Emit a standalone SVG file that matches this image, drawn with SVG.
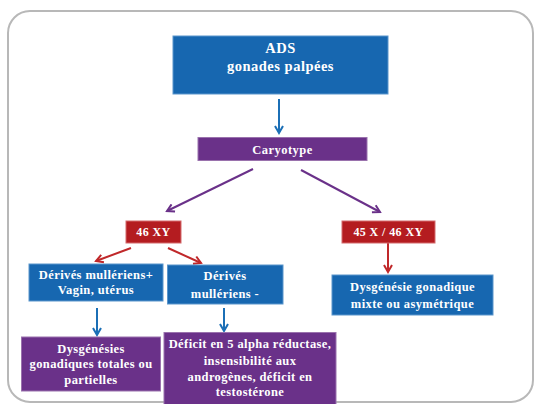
<svg xmlns="http://www.w3.org/2000/svg" width="536" height="404" viewBox="0 0 536 404">
<defs>
<style>
.t{font-family:"Liberation Serif","Times New Roman",serif;font-weight:bold;fill:#ffffff;text-anchor:middle;font-size:12.5px;letter-spacing:0.4px}
.blue{fill:#1767b0;stroke:#5b96cc;stroke-width:1}
.purple{fill:#6a3189;stroke:#9a72ad;stroke-width:1}
.red{fill:#b41c20;stroke:#d46a6c;stroke-width:1}
.cb{stroke:#1b6fb6;stroke-width:2;fill:none}
.cp{stroke:#6a3189;stroke-width:2;fill:none}
.cr{stroke:#c0282a;stroke-width:2;fill:none}
</style>
<marker id="ab" viewBox="0 0 10 10" refX="8" refY="5" markerWidth="5" markerHeight="5" orient="auto" markerUnits="strokeWidth">
<path d="M1,1 L8,5 L1,9" fill="none" stroke="#1b6fb6" stroke-width="2"/>
</marker>
<marker id="ap" viewBox="0 0 10 10" refX="8" refY="5" markerWidth="5" markerHeight="5" orient="auto" markerUnits="strokeWidth">
<path d="M1,1 L8,5 L1,9" fill="none" stroke="#6a3189" stroke-width="2"/>
</marker>
<marker id="ar" viewBox="0 0 10 10" refX="8" refY="5" markerWidth="5" markerHeight="5" orient="auto" markerUnits="strokeWidth">
<path d="M1,1 L8,5 L1,9" fill="none" stroke="#c0282a" stroke-width="2"/>
</marker>
</defs>
<rect x="0" y="0" width="536" height="404" fill="#ffffff"/>
<rect x="8" y="11" width="525" height="391" rx="22" ry="22" fill="none" stroke="#b8b8b8" stroke-width="2"/>

<g id="connectors">
<line class="cb" x1="279" y1="99" x2="279" y2="133" marker-end="url(#ab)"/>
<line class="cp" x1="253" y1="169" x2="167" y2="211" marker-end="url(#ap)"/>
<line class="cp" x1="301" y1="170" x2="380" y2="212" marker-end="url(#ap)"/>
<line class="cr" x1="131" y1="248" x2="96" y2="261" marker-end="url(#ar)"/>
<line class="cr" x1="168" y1="248" x2="201" y2="263" marker-end="url(#ar)"/>
<line class="cr" x1="388" y1="243" x2="388" y2="272" marker-end="url(#ar)"/>
<line class="cb" x1="97" y1="308" x2="97" y2="335" marker-end="url(#ab)"/>
<line class="cb" x1="224" y1="308" x2="224" y2="331" marker-end="url(#ab)"/>
</g>

<g id="ads">
<rect class="blue" x="173" y="36" width="215" height="58"/>
<text class="t" x="280.5" y="53" style="font-size:14.5px;letter-spacing:0.5px">ADS</text>
<text class="t" x="280.5" y="71" style="font-size:14.5px;letter-spacing:0.5px">gonades palpées</text>
</g>

<g id="caryotype">
<rect class="purple" x="198" y="137.5" width="169" height="23"/>
<text class="t" x="282.5" y="153.5" style="font-size:12.5px;letter-spacing:0.5px">Caryotype</text>
</g>

<g id="xy46">
<rect class="red" x="126" y="221" width="55" height="22"/>
<text class="t" x="153.5" y="236" style="font-size:12px">46 XY</text>
</g>

<g id="x45">
<rect class="red" x="342" y="221" width="93" height="22"/>
<text class="t" x="388.5" y="236" style="font-size:12px">45 X / 46 XY</text>
</g>

<g id="derives-plus">
<rect class="blue" x="29" y="264" width="134" height="37"/>
<text class="t" x="96" y="278.5">Dérivés mullériens+</text>
<text class="t" x="96" y="293.5">Vagin, utérus</text>
</g>

<g id="derives-moins">
<rect class="blue" x="167.5" y="265" width="115.5" height="39"/>
<text class="t" x="225" y="279.5">Dérivés</text>
<text class="t" x="225" y="298">mullériens -</text>
</g>

<g id="dysgenesie-mixte">
<rect class="blue" x="332" y="275" width="161" height="40"/>
<text class="t" x="412.5" y="291">Dysgénésie gonadique</text>
<text class="t" x="412.5" y="308">mixte ou asymétrique</text>
</g>

<g id="dysgenesies">
<rect class="purple" x="21.5" y="337" width="139" height="54"/>
<text class="t" x="91" y="352.5">Dysgénésies</text>
<text class="t" x="91" y="368">gonadiques totales ou</text>
<text class="t" x="91" y="384">partielles</text>
</g>

<g id="deficit">
<rect class="purple" x="164" y="332.5" width="172" height="76"/>
<text class="t" x="250" y="347.5">Déficit en 5 alpha réductase,</text>
<text class="t" x="250" y="365">insensibilité aux</text>
<text class="t" x="250" y="381">androgènes, déficit en</text>
<text class="t" x="250" y="396">testostérone</text>
</g>
</svg>
